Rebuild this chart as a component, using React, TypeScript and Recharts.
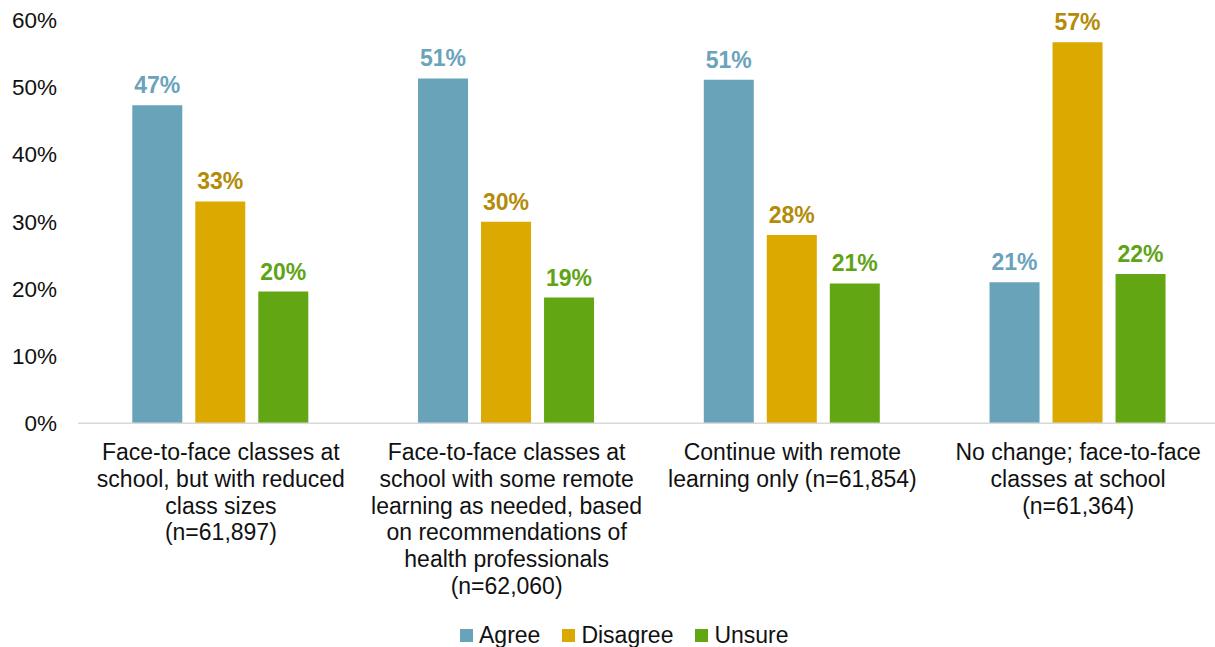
import React from 'react';
import { BarChart, Bar, XAxis, YAxis, Legend, LabelList } from 'recharts';

const categories = [
  'Face-to-face classes at\nschool, but with reduced\nclass sizes\n(n=61,897)',
  'Face-to-face classes at\nschool with some remote\nlearning as needed, based\non recommendations of\nhealth professionals\n(n=62,060)',
  'Continue with remote\nlearning only (n=61,854)',
  'No change; face-to-face\nclasses at school\n(n=61,364)',
];
const agree = [47.3, 51.3, 51.1, 21.0];
const disagree = [33.0, 30.0, 28.0, 56.7];
const unsure = [19.6, 18.7, 20.8, 22.2];
const yTicks = [0, 10, 20, 30, 40, 50, 60];

const seriesNames = ['Agree', 'Disagree', 'Unsure'];
const barColors = ['#68A3BA', '#DBA900', '#62A713'];
const labelColors = ['#6AA3BB', '#B38B08', '#5FA316'];

const data = categories.map((c, i) => ({
  category: c,
  Agree: agree[i],
  Disagree: disagree[i],
  Unsure: unsure[i],
}));

const FONT = '"Liberation Sans", Arial, sans-serif';

const CategoryTick = (props: any) => {
  const { x, y, payload } = props;
  const lines = String(payload.value).split('\n');
  return (
    <text x={x} y={y} textAnchor="middle" fontFamily={FONT} fontSize={23} fill="#111">
      {lines.map((l, i) => (
        <tspan key={i} x={x} y={y + 36.7 + i * 26.8}>
          {l}
        </tspan>
      ))}
    </text>
  );
};

const LegendContent = () => (
  <div style={{ display: 'flex', alignItems: 'center', fontFamily: FONT, fontSize: 23, color: '#111', whiteSpace: 'nowrap' }}>
    {seriesNames.map((n, i) => (
      <div key={n} style={{ display: 'flex', alignItems: 'center', marginRight: i < seriesNames.length - 1 ? 22 : 0 }}>
        <div style={{ width: 13, height: 13, background: barColors[i], marginRight: 6 }} />
        <span>{n}</span>
      </div>
    ))}
  </div>
);

export default function App() {
  return (
    <div style={{ position: 'absolute', left: 0, top: 0, width: 1215, height: 647, overflow: 'hidden', background: '#fff' }}>
      <BarChart
        width={1221}
        height={647}
        data={data}
        margin={{ top: 20, right: 0, left: 0, bottom: 0 }}
        barCategoryGap="19%"
        barGap={13}
      >
        <XAxis
          dataKey="category"
          height={223.7}
          interval={0}
          tickLine={false}
          tickSize={0}
          tickMargin={0}
          axisLine={{ stroke: '#D9D9D9', strokeWidth: 1.5 }}
          tick={<CategoryTick />}
        />
        <YAxis
          width={78}
          domain={[0, 60]}
          ticks={yTicks}
          interval={0}
          axisLine={false}
          tickLine={false}
          tickSize={0}
          tickMargin={21}
          tickFormatter={(v: number) => `${v}%`}
          tick={{ fontFamily: FONT, fontSize: 22.5, fill: '#111' }}
        />
        <Legend
          layout="horizontal"
          verticalAlign="middle"
          align="center"
          content={<LegendContent />}
          wrapperStyle={{ position: 'absolute', left: 460, top: 622, width: 'auto', height: 26 }}
        />
        {seriesNames.map((n, i) => (
          <Bar key={n} dataKey={n} fill={barColors[i]} isAnimationActive={false}>
            <LabelList
              dataKey={n}
              position="top"
              offset={12}
              formatter={(v: any) => `${Math.round(Number(v))}%`}
              style={{ fontFamily: FONT, fontSize: 23, fontWeight: 'bold', fill: labelColors[i] }}
            />
          </Bar>
        ))}
      </BarChart>
    </div>
  );
}
